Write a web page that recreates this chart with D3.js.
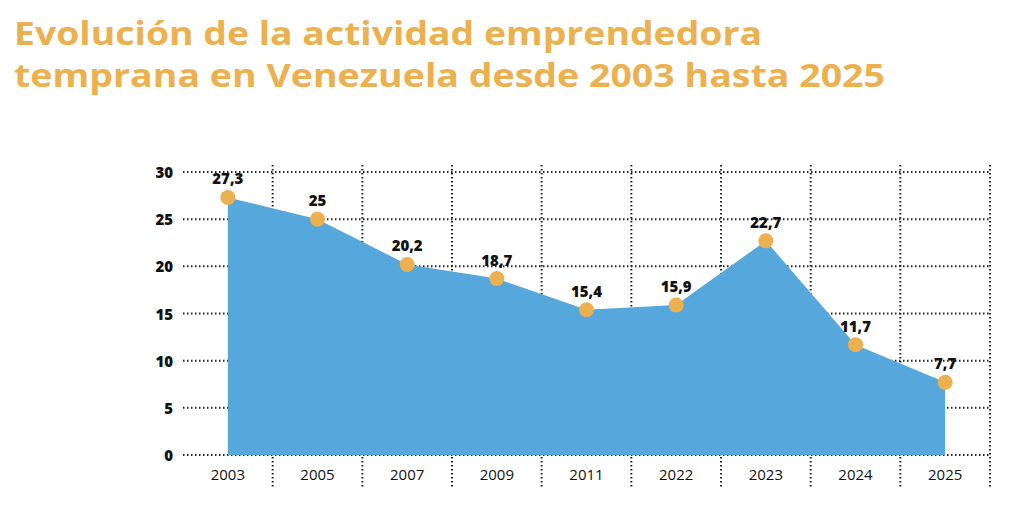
<!DOCTYPE html>
<html>
<head>
<meta charset="utf-8">
<script src="https://cdn.jsdelivr.net/npm/d3@7"></script>
<style>
  body { margin: 0; background: #fff; }
  svg { display: block; font-family: "Open Sans", sans-serif; }
</style>
</head>
<body>
<svg id="chart" width="1024" height="524"></svg>
<script>
const years = ['2003', '2005', '2007', '2009', '2011', '2022', '2023', '2024', '2025'];
const values = [27.3, 25, 20.2, 18.7, 15.4, 15.9, 22.7, 11.7, 7.7];
const yTicks = [0, 5, 10, 15, 20, 25, 30];

const data = years.map((k, i) => ({ k, v: values[i] }));
const fmt = v => String(v).replace('.', ',');

const svg = d3.select('#chart');

const x = d3.scaleBand().domain(years).range([183, 990]);
const y = d3.scaleLinear().domain([0, 30]).range([455, 172]);
const cx = d => x(d.k) + x.bandwidth() / 2;

// título
const title = svg.append('g')
  .attr('fill', '#EDB04F')
  .attr('font-family', '"Open Sans", sans-serif')
  .attr('font-weight', 700)
  .attr('font-size', 33);
title.append('text').attr('x', 14).attr('y', 45)
  .attr('textLength', 748).attr('lengthAdjust', 'spacingAndGlyphs')
  .text('Evolución de la actividad emprendedora');
title.append('text').attr('x', 14).attr('y', 87)
  .attr('textLength', 871).attr('lengthAdjust', 'spacingAndGlyphs')
  .text('temprana en Venezuela desde 2003 hasta 2025');

// cuadrícula horizontal
svg.append('g')
  .selectAll('line')
  .data(yTicks)
  .enter()
  .append('line')
  .attr('x1', 183).attr('x2', 990)
  .attr('y1', d => y(d)).attr('y2', d => y(d))
  .attr('stroke', '#222')
  .attr('stroke-width', 2)
  .attr('stroke-dasharray', '1.5,2.5');

// cuadrícula vertical (límites de banda)
svg.append('g')
  .selectAll('line')
  .data(years)
  .enter()
  .append('line')
  .attr('x1', d => x(d) + x.bandwidth()).attr('x2', d => x(d) + x.bandwidth())
  .attr('y1', 165).attr('y2', 488)
  .attr('stroke', '#222')
  .attr('stroke-width', 2)
  .attr('stroke-dasharray', '1.5,2.5');

// área
const area = d3.area()
  .x(cx)
  .y0(y(0))
  .y1(d => y(d.v));

svg.append('path')
  .datum(data)
  .attr('d', area)
  .attr('fill', '#55A7DC');

// eje Y
svg.append('g')
  .selectAll('text')
  .data(yTicks)
  .enter()
  .append('text')
  .attr('x', 173)
  .attr('y', d => y(d) + 6)
  .attr('text-anchor', 'end')
  .attr('font-weight', 800)
  .attr('font-size', 15)
  .attr('fill', '#111')
  .text(d => d);

// eje X
svg.append('g')
  .selectAll('text')
  .data(years)
  .enter()
  .append('text')
  .attr('x', d => x(d) + x.bandwidth() / 2)
  .attr('y', 480)
  .attr('text-anchor', 'middle')
  .attr('font-size', 15)
  .attr('fill', '#111')
  .text(d => d);

// puntos
svg.append('g')
  .selectAll('circle')
  .data(data)
  .enter()
  .append('circle')
  .attr('cx', cx)
  .attr('cy', d => y(d.v))
  .attr('r', 7.5)
  .attr('fill', '#EDB04F');

// etiquetas de valor
svg.append('g')
  .selectAll('text')
  .data(data)
  .enter()
  .append('text')
  .attr('x', cx)
  .attr('y', d => y(d.v) - 13)
  .attr('text-anchor', 'middle')
  .attr('font-weight', 800)
  .attr('font-size', 15)
  .attr('fill', '#111')
  .text(d => fmt(d.v));
</script>
</body>
</html>
